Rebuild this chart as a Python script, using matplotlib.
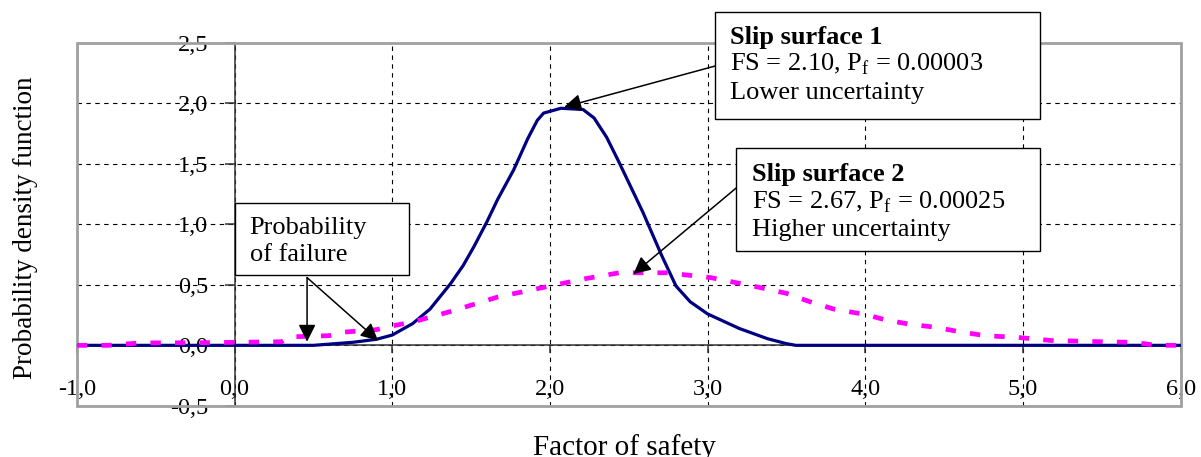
import matplotlib
matplotlib.use('Agg')
import matplotlib.pyplot as plt
from matplotlib.patches import Rectangle

plt.rcParams['font.family'] = ['Liberation Serif', 'DejaVu Serif']

# factor of safety values and pdf
fs_1 = [-1.0, 0.5, 0.75, 0.9, 1.0, 1.13, 1.24, 1.37, 1.45, 1.52, 1.6, 1.67, 1.77, 1.86, 1.92, 1.96, 2.07, 2.21,
        2.28, 2.36, 2.44, 2.59, 2.71, 2.80, 2.89, 3.0, 3.2, 3.38, 3.5, 3.56, 6.0]
pdf_1 = [0.0, 0.0, 0.025, 0.05, 0.085, 0.18, 0.30, 0.51, 0.66, 0.82, 1.02, 1.21, 1.45, 1.71, 1.86, 1.92, 1.96, 1.95,
         1.88, 1.72, 1.51, 1.10, 0.74, 0.49, 0.36, 0.26, 0.14, 0.055, 0.014, 0.0, 0.0]
fs_2 = [-1.0, -0.8, -0.6, -0.2, 0.0, 0.3, 0.35, 0.6, 0.7, 0.9, 1.0, 1.15, 1.37, 1.67, 2.0, 2.22,
        2.44, 2.74, 3.02, 3.29, 3.5, 3.65, 3.8, 4.0, 4.13, 4.28, 4.44, 4.61, 4.76, 4.97, 5.18,
        5.5, 5.7, 5.85, 6.0]
pdf_2 = [0.0, 0.0, 0.02, 0.022, 0.025, 0.03, 0.07, 0.08, 0.11, 0.13, 0.16, 0.2, 0.28, 0.40, 0.49, 0.55,
         0.60, 0.60, 0.56, 0.49, 0.43, 0.36, 0.30, 0.255, 0.21, 0.175, 0.15, 0.11, 0.08, 0.065, 0.04,
         0.03, 0.025, 0.0, 0.0]

x_ticks = [-1, 0, 1, 2, 3, 4, 5, 6]
x_labels = ['-1,0', '0,0', '1,0', '2,0', '3,0', '4,0', '5,0', '6,0']
y_ticks = [-0.5, 0.0, 0.5, 1.0, 1.5, 2.0, 2.5]
y_labels = ['-0,5', '0,0', '0,5', '1,0', '1,5', '2,0', '2,5']

fig = plt.figure(figsize=(12.01, 4.57), dpi=100)
ax = fig.add_axes([0.064, 0.112, 0.919, 0.794])

ax.plot(fs_1, pdf_1, color='#000080', lw=2.3, zorder=3)
ax.plot(fs_2, pdf_2, color='#ff00ff', lw=3.4, linestyle=(0, (2.2, 3)), zorder=4)

ax.set_xlim(-1, 6)
ax.set_ylim(-0.5, 2.5)
ax.set_xticks(x_ticks)
ax.set_xticklabels(x_labels)
ax.set_yticks(y_ticks)
ax.set_yticklabels(y_labels)
ax.grid(True, color='black', linestyle=(0, (4, 4)), lw=0.8, zorder=1)
ax.set_axisbelow(True)

ax.spines['left'].set_position(('data', 0))
ax.spines['bottom'].set_position(('data', 0))
ax.spines['top'].set_visible(False)
ax.spines['right'].set_visible(False)
for s in ['left', 'bottom']:
    ax.spines[s].set_color('#333333')
    ax.spines[s].set_linewidth(1.1)
ax.tick_params(axis='x', direction='out', length=6, width=1.1, color='#333333', pad=18, labelsize=17.5)
ax.tick_params(axis='y', direction='out', length=7, width=1.1, color='#333333', pad=12, labelsize=17.5)
ax.add_patch(Rectangle((0, 0), 1, 1, transform=ax.transAxes, fill=False,
                       edgecolor='#a0a0a0', lw=2, zorder=2.6, clip_on=False))

fig.text(0.021, 0.501, 'Probability density function', rotation=90, ha='center', va='center', fontsize=19.5)
fig.text(0.52, 0.005, 'Factor of safety', ha='center', va='baseline', fontsize=21)

# annotation boxes
ax.add_patch(Rectangle((3.05, 1.875), 2.06, 0.88, facecolor='white', edgecolor='black',
                       lw=1, zorder=6, clip_on=False))
ax.text(3.14, 2.49, 'Slip surface 1', fontsize=19, fontweight='bold', zorder=7)
ax.text(3.14, 2.27, 'FS = 2.10, P$_\\mathregular{f}$ = 0.00003', fontsize=19, zorder=7)
ax.text(3.14, 2.04, 'Lower uncertainty', fontsize=19, zorder=7)

ax.add_patch(Rectangle((3.18, 0.78), 1.93, 0.85, facecolor='white', edgecolor='black',
                       lw=1, zorder=6, clip_on=False))
ax.text(3.28, 1.36, 'Slip surface 2', fontsize=19, fontweight='bold', zorder=7)
ax.text(3.28, 1.135, 'FS = 2.67, P$_\\mathregular{f}$ = 0.00025', fontsize=19, zorder=7)
ax.text(3.28, 0.9, 'Higher uncertainty', fontsize=19, zorder=7)

ax.add_patch(Rectangle((0.006, 0.58), 1.1, 0.6, facecolor='white', edgecolor='black',
                       lw=1, zorder=6, clip_on=False))
ax.text(0.095, 0.92, 'Probability', fontsize=19, zorder=7)
ax.text(0.095, 0.70, 'of failure', fontsize=19, zorder=7)

arrow = dict(arrowstyle='-|>', color='black', lw=1.1, mutation_scale=26, shrinkA=0, shrinkB=0)
ax.annotate('', xy=(2.09, 1.97), xytext=(3.05, 2.31), arrowprops=arrow, zorder=5)
ax.annotate('', xy=(2.53, 0.59), xytext=(3.19, 1.31), arrowprops=arrow, zorder=5)
ax.annotate('', xy=(0.46, 0.03), xytext=(0.46, 0.56), arrowprops=arrow, zorder=5)
ax.annotate('', xy=(0.91, 0.04), xytext=(0.46, 0.56), arrowprops=arrow, zorder=5)

fig.savefig('out.png', dpi=100)
